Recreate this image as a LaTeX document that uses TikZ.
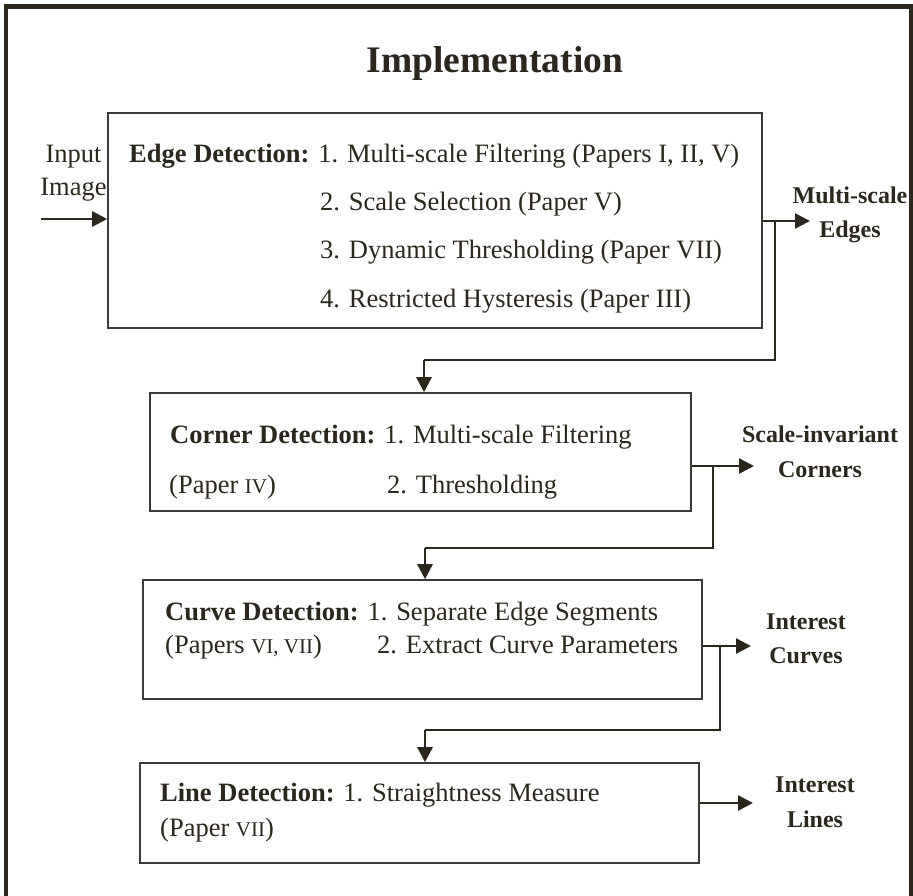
\documentclass[tikz,border=0pt]{standalone}
\usepackage{fontspec}
\setmainfont{Liberation Serif}
\usetikzlibrary{arrows.meta}
\definecolor{ink}{RGB}{43,39,31}
\definecolor{boxline}{RGB}{60,58,54}
\newcommand{\bodyfont}{\fontsize{26.5}{30}\selectfont}
\newcommand{\labfont}{\fontsize{24}{28}\selectfont\bfseries}
\newcommand{\rnum}[1]{{\fontsize{21}{24}\selectfont #1}}
\begin{document}
\begin{tikzpicture}[x=1pt,y=-1pt,
  stagebox/.style={draw=boxline,line width=1.6pt,inner sep=0pt,fill=none},
  txt/.style={anchor=base west,inner sep=0pt,text=ink,font=\bodyfont},
  lab/.style={anchor=base,inner sep=0pt,text=ink,font=\labfont},
  flow/.style={draw=ink,line width=2.6pt,-{Triangle[length=15pt,width=15pt]}},
  link/.style={draw=ink,line width=2.6pt}]
\useasboundingbox (0,0) rectangle (913,895);
\clip (0,0) rectangle (913,895);
\fill[white] (0,0) rectangle (913,895);

% outer frame, open at the bottom
\draw[ink,line width=4.5pt] (6,960) -- (6,6.5) -- (911.5,6.5) -- (911.5,960);

% title
\node[anchor=base,inner sep=0pt,text=ink,font=\fontsize{37.5}{40}\selectfont\bfseries] (title) at (495,72) {Implementation};

% stage boxes
\node[stagebox,minimum width=654pt,minimum height=215pt] (edge) at (435,220.5) {};
\node[stagebox,minimum width=541pt,minimum height=118pt] (corner) at (420.5,452) {};
\node[stagebox,minimum width=559pt,minimum height=119pt] (curve) at (422.5,639.5) {};
\node[stagebox,minimum width=559pt,minimum height=100pt] (line) at (419.5,813) {};

% input
\node[anchor=base,inner sep=0pt,text=ink,font=\bodyfont] (inp1) at (73.5,162) {Input};
\node[anchor=base,inner sep=0pt,text=ink,font=\bodyfont] (inp2) at (73.5,195) {Image};
\coordinate (instart) at (41,219);
\draw[flow] (instart) -- (instart -| edge.west);

% edge detection text
\node[txt] (e1) at (129,162) {\textbf{Edge Detection:} 1. Multi-scale Filtering (Papers I, II, V)};
\node[txt] (e2) at (320,210) {2. Scale Selection (Paper V)};
\node[txt] (e3) at (320,258) {3. Dynamic Thresholding (Paper VII)};
\node[txt] (e4) at (320,307) {4. Restricted Hysteresis (Paper III)};

% corner detection text
\node[txt] (c1) at (170,443) {\textbf{Corner Detection:} 1. Multi-scale Filtering};
\node[txt] (c2) at (169,493) {(Paper \rnum{IV})};
\node[txt] (c3) at (387,493) {2. Thresholding};

% curve detection text
\node[txt] (v1) at (165,620) {\textbf{Curve Detection:} 1. Separate Edge Segments};
\node[txt] (v2) at (165,653) {(Papers \rnum{VI, VII})};
\node[txt] (v3) at (377,653) {2. Extract Curve Parameters};

% line detection text
\node[txt] (l1) at (160,801) {\textbf{Line Detection:} 1. Straightness Measure};
\node[txt] (l2) at (160,836) {(Paper \rnum{VII})};

% output labels
\node[lab] (o1a) at (850,203) {Multi-scale};
\node[lab] (o1b) at (850,237) {Edges};
\node[lab] (o2a) at (820,442) {Scale-invariant};
\node[lab] (o2b) at (820,477) {Corners};
\node[lab] (o3a) at (806,629) {Interest};
\node[lab] (o3b) at (806,663) {Curves};
\node[lab] (o4a) at (815,792) {Interest};
\node[lab] (o4b) at (815,827) {Lines};

% output arrows
\coordinate (out1) at (810,221);
\coordinate (out2) at (754,466);
\coordinate (out3) at (751,646);
\coordinate (out4) at (753,803);
\draw[flow] (edge.east |- out1) -- (out1);
\draw[flow] (corner.east |- out2) -- (out2);
\draw[flow] (curve.east |- out3) -- (out3);
\draw[flow] (line.east |- out4) -- (out4);

% links from one stage to the next
\coordinate (b1) at (775,221);
\coordinate (j1) at (775,360);
\coordinate (d1) at (424,360);
\draw[link] (b1) -- (j1) -- (d1);
\draw[flow] (d1) -- (d1 |- corner.north);

\coordinate (b2) at (713,466);
\coordinate (j2) at (713,548);
\coordinate (d2) at (425,548);
\draw[link] (b2) -- (j2) -- (d2);
\draw[flow] (d2) -- (d2 |- curve.north);

\coordinate (b3) at (720,646);
\coordinate (j3) at (720,730);
\coordinate (d3) at (425,730);
\draw[link] (b3) -- (j3) -- (d3);
\draw[flow] (d3) -- (d3 |- line.north);
\end{tikzpicture}
\end{document}
